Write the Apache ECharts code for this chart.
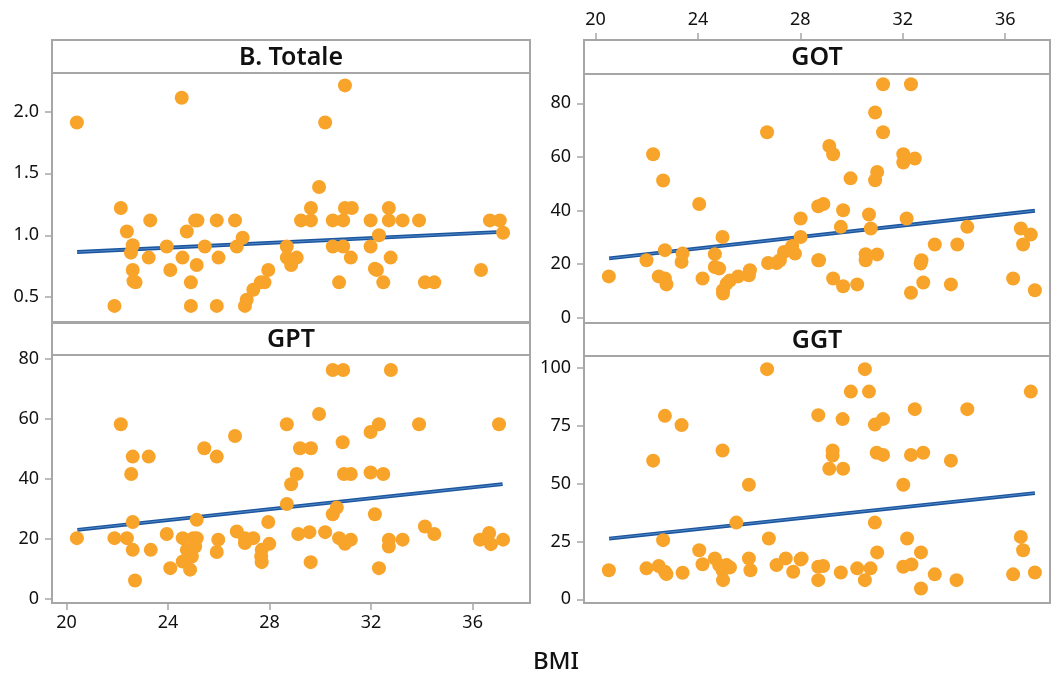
<!DOCTYPE html>
<html><head><meta charset="utf-8">
<script src="https://cdn.jsdelivr.net/npm/echarts@6/dist/echarts.min.js"></script>
<style>html,body{margin:0;padding:0;background:#fff}#c{width:1054px;height:674px}</style>
</head><body><div id="c"></div>
<script>
const panelTitles = ['B. Totale', 'GOT', 'GPT', 'GGT'];
const xTitle = 'BMI';
const bmiTicks = [20, 24, 28, 32, 36];
const totaleTicks = [0.5, 1.0, 1.5, 2.0];
const gotTicks = [0, 20, 40, 60, 80];
const gptTicks = [0, 20, 40, 60, 80];
const ggtTicks = [0, 25, 50, 75, 100];

const totale = [
 [20.41,1.91],[24.54,2.11],[22.14,1.22],[22.38,1.03],[22.61,0.92],[22.54,0.86],[22.61,0.72],[22.64,0.63],
 [22.72,0.62],[21.89,0.43],[23.30,1.12],[23.24,0.82],[23.95,0.91],[24.09,0.72],[24.74,1.03],[24.57,0.82],
 [24.90,0.62],[24.90,0.43],[25.07,1.12],[25.16,1.12],[25.13,0.76],[25.45,0.91],[25.92,1.12],[25.99,0.82],
 [25.92,0.43],[26.64,1.12],[26.71,0.91],[26.94,0.98],[27.03,0.43],[27.10,0.48],[27.36,0.56],[27.65,0.62],
 [27.80,0.62],[27.95,0.72],[28.68,0.91],[28.68,0.82],[28.85,0.76],[29.07,0.82],[29.24,1.12],[29.63,1.12],
 [29.63,1.22],[29.95,1.39],[30.19,1.91],[30.97,2.21],[30.49,1.12],[30.90,1.12],[30.97,1.22],[31.24,1.22],
 [31.98,1.12],[32.70,1.22],[32.70,1.12],[33.24,1.12],[33.89,1.12],[36.68,1.12],[37.07,1.12],[37.20,1.02],
 [30.49,0.91],[30.90,0.91],[31.20,0.82],[31.98,0.91],[32.31,1.00],[32.15,0.73],[32.23,0.72],[32.48,0.62],
 [30.74,0.62],[32.77,0.82],[34.12,0.62],[34.49,0.62],[36.33,0.72]
];
const got = [
 [20.52,15.4],[22.25,61.0],[22.64,51.2],[21.99,21.4],[22.71,25.2],[22.47,15.4],[22.71,14.6],[22.77,12.4],
 [23.40,23.9],[23.36,20.8],[24.05,42.4],[24.18,14.6],[24.66,23.7],[24.66,18.9],[24.83,18.3],[24.96,30.1],
 [24.98,10.2],[24.98,9.0],[25.12,12.7],[25.25,13.9],[25.57,15.4],[26.03,17.7],[25.99,15.8],[26.70,69.2],
 [26.74,20.4],[27.07,20.4],[27.20,21.4],[27.36,24.5],[27.68,26.7],[27.79,23.9],[28.01,30.1],[28.01,37.0],
 [28.70,21.4],[31.23,87.1],[32.32,87.1],[30.92,76.6],[31.23,69.2],[29.13,64.1],[29.28,61.0],[32.02,61.0],
 [32.02,57.9],[32.47,59.4],[29.96,52.0],[31.00,54.4],[30.92,51.3],[28.70,41.6],[28.90,42.4],[29.67,40.1],
 [30.68,38.5],[32.15,37.0],[29.58,33.9],[30.75,33.3],[34.52,33.9],[36.61,33.3],[37.00,31.0],[36.70,27.3],
 [33.25,27.3],[34.13,27.3],[28.73,21.4],[30.55,23.7],[30.55,21.4],[31.00,23.6],[32.73,21.4],[32.70,20.2],
 [29.28,14.6],[29.67,11.7],[30.22,12.4],[32.80,13.1],[32.32,9.3],[33.88,12.4],[36.31,14.6],[37.16,10.2]
];
const gpt = [
 [20.41,20.3],[22.14,58.3],[22.61,47.5],[22.55,41.7],[23.24,47.5],[22.61,25.7],[21.89,20.3],[22.38,20.3],
 [22.61,16.4],[22.70,6.2],[23.32,16.4],[23.95,21.7],[24.09,10.3],[24.58,20.3],[25.00,20.3],[25.13,20.3],
 [24.58,12.5],[24.87,9.8],[24.74,16.4],[25.07,17.5],[24.94,14.2],[25.13,26.4],[25.43,50.3],[25.92,47.5],
 [25.98,19.8],[25.92,15.7],[26.64,54.4],[26.71,22.5],[27.03,18.7],[27.36,20.3],[27.03,20.3],[27.69,16.4],
 [27.67,14.2],[27.69,12.3],[27.99,18.4],[27.95,25.7],[28.68,58.3],[28.68,31.7],[28.85,38.3],[29.07,41.7],
 [29.20,50.3],[29.13,21.7],[30.49,76.4],[30.90,76.4],[32.78,76.4],[29.95,61.7],[32.31,58.3],[31.98,55.7],
 [33.89,58.3],[37.04,58.3],[29.63,50.3],[30.88,52.3],[30.93,41.7],[31.20,41.7],[31.98,42.2],[32.48,41.7],
 [30.65,30.5],[30.49,28.3],[32.15,28.3],[29.57,22.3],[30.19,22.3],[30.74,20.3],[30.97,18.4],[31.20,19.8],
 [29.62,12.3],[32.70,19.8],[32.70,17.5],[33.24,19.8],[34.12,24.2],[34.49,21.7],[32.31,10.3],[36.29,19.8],
 [36.65,22.0],[36.72,18.3],[37.20,19.8]
];
const ggt = [
 [20.52,12.6],[22.25,60.0],[22.71,79.4],[23.36,75.4],[22.64,25.6],[21.99,13.4],[22.47,14.4],[22.71,11.9],
 [22.77,10.9],[23.40,11.5],[24.05,21.2],[24.18,15.2],[24.66,17.7],[24.83,14.8],[25.12,14.8],[25.25,13.8],
 [24.96,12.6],[24.98,8.3],[24.96,64.4],[25.50,33.2],[25.99,49.6],[25.99,17.7],[26.05,12.6],[26.70,99.6],
 [26.77,26.3],[27.07,14.8],[27.43,17.7],[27.72,11.9],[28.01,17.2],[28.70,79.7],[28.70,14.1],[28.70,8.3],
 [30.52,99.6],[29.97,89.9],[30.68,89.9],[29.65,78.0],[30.91,75.6],[31.23,78.0],[32.47,82.3],[34.52,82.3],
 [37.00,89.9],[29.26,64.4],[29.26,62.2],[29.13,56.5],[29.67,56.5],[30.98,63.4],[31.23,62.5],[32.32,62.5],
 [32.80,63.4],[33.88,60.0],[32.02,49.6],[30.91,33.2],[32.17,26.3],[31.00,20.3],[32.71,20.3],[28.05,17.7],
 [28.89,14.4],[29.58,11.6],[30.22,13.4],[30.74,13.4],[30.52,8.3],[32.02,14.1],[32.34,15.1],[33.25,10.8],
 [32.71,4.7],[34.10,8.3],[36.61,27.0],[36.70,21.2],[36.31,10.8],[37.16,11.6]
];
const totaleFit = [[20.42,0.865],[36.95,1.025]];
const gotFit = [[20.53,22.1],[37.16,39.9]];
const gptFit = [[20.43,23.1],[37.18,38.3]];
const ggtFit = [[20.53,26.3],[37.16,46.0]];

const panels = [
 {data: totale, fit: totaleFit, ticks: totaleTicks, dec: 1, ymin: 0.30, ymax: 2.31, xmin: 19.43, xmax: 38.26,
  grid: {left: 52, top: 73, width: 478, height: 249}, strip: [52, 40, 478, 33], xLabels: false},
 {data: got, fit: gotFit, ticks: gotTicks, dec: 0, ymin: -2.0, ymax: 90.95, xmin: 19.55, xmax: 37.75,
  grid: {left: 584, top: 74, width: 466, height: 249}, strip: [584, 40, 466, 34], xLabels: 'top'},
 {data: gpt, fit: gptFit, ticks: gptTicks, dec: 0, ymin: -1.33, ymax: 81.4, xmin: 19.43, xmax: 38.26,
  grid: {left: 52, top: 355, width: 478, height: 248}, strip: [52, 323, 478, 32], xLabels: 'bottom'},
 {data: ggt, fit: ggtFit, ticks: ggtTicks, dec: 0, ymin: -1.6, ymax: 105.3, xmin: 19.55, xmax: 37.75,
  grid: {left: 584, top: 356, width: 466, height: 247}, strip: [584, 323, 466, 33], xLabels: false}
];

const FONT = '"Noto Sans", "Open Sans", sans-serif';
const frameColor = '#a6a6a6';
const tickStyle = {show: true, length: 7, lineStyle: {color: frameColor, width: 1.5}};

const grids = [], xAxes = [], yAxes = [], series = [], graphics = [];
panels.forEach((p, i) => {
  grids.push(p.grid);
  xAxes.push({
    type: 'value', gridIndex: i, min: p.xmin, max: p.xmax,
    position: p.xLabels === 'top' ? 'top' : 'bottom',
    offset: p.xLabels === 'top' ? 34 : 0,
    axisLine: {show: false, onZero: false}, splitLine: {show: false},
    axisTick: Object.assign({}, tickStyle, {show: !!p.xLabels, customValues: bmiTicks}),
    axisLabel: {show: !!p.xLabels, customValues: bmiTicks, color: '#111', fontSize: 18, fontFamily: FONT, margin: 11}
  });
  yAxes.push({
    type: 'value', gridIndex: i, min: p.ymin, max: p.ymax,
    axisLine: {show: false, onZero: false}, splitLine: {show: false},
    axisTick: Object.assign({}, tickStyle, {customValues: p.ticks}),
    axisLabel: {customValues: p.ticks, color: '#111', fontSize: 18, fontFamily: FONT, margin: 13,
      formatter: v => v.toFixed(p.dec)}
  });
  series.push({
    type: 'line', xAxisIndex: i, yAxisIndex: i, data: p.fit, showSymbol: false, silent: true,
    lineStyle: {color: '#1b559d', width: 3.8}, z: 2, animation: false
  });
  series.push({
    type: 'line', xAxisIndex: i, yAxisIndex: i, data: p.fit, showSymbol: false, silent: true,
    lineStyle: {color: '#4f86c8', width: 1}, z: 2, animation: false
  });
  series.push({
    type: 'scatter', xAxisIndex: i, yAxisIndex: i, data: p.data, symbolSize: 14,
    itemStyle: {color: '#F8A42A', opacity: 1}, z: 3, animation: false
  });
  const [sx, sy, sw, sh] = p.strip;
  graphics.push({
    type: 'rect', z: 10, shape: {x: sx, y: sy, width: sw, height: p.grid.top + p.grid.height - sy},
    style: {fill: 'none', stroke: frameColor, lineWidth: 2}
  });
  graphics.push({
    type: 'line', z: 10, shape: {x1: sx, y1: sy + sh, x2: sx + sw, y2: sy + sh},
    style: {stroke: frameColor, lineWidth: 2}
  });
  graphics.push({
    type: 'text', z: 11, x: sx + sw / 2, y: sy + sh / 2 + 1,
    style: {text: panelTitles[i], align: 'center', verticalAlign: 'middle',
      fontSize: 25, fontWeight: 600, fontFamily: FONT, fill: '#111'}
  });
});
graphics.push({
  type: 'text', z: 11, x: 556, y: 662,
  style: {text: xTitle, align: 'center', verticalAlign: 'middle', fontSize: 24, fontWeight: 500, fontFamily: FONT, fill: '#111'}
});

const chart = echarts.init(document.getElementById('c'), null, {renderer: 'canvas'});
chart.setOption({
  animation: false,
  backgroundColor: '#fff',
  grid: grids, xAxis: xAxes, yAxis: yAxes, series: series, graphic: graphics
});
</script>
</body></html>
